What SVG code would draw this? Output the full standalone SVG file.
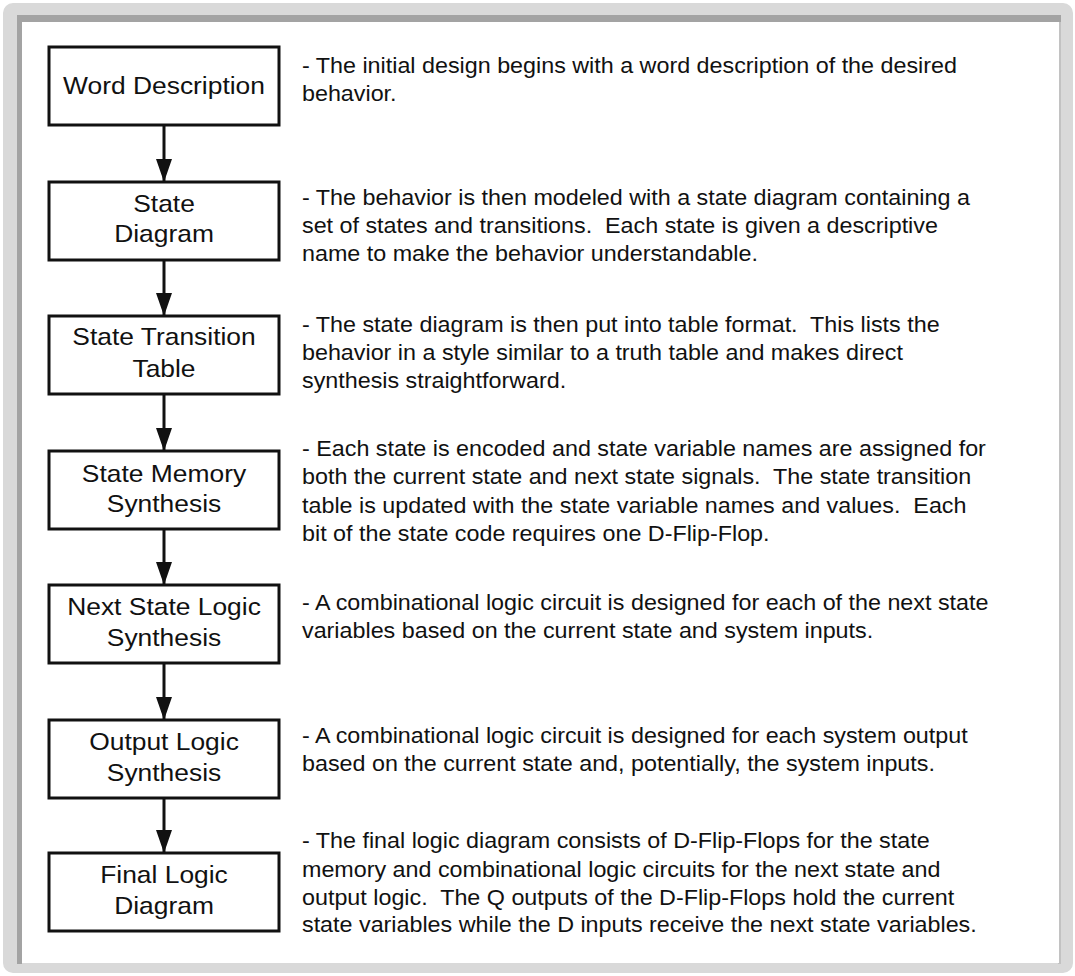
<svg xmlns="http://www.w3.org/2000/svg" width="1075" height="976" viewBox="0 0 1075 976">
<style>
.box{fill:#fff;stroke:#111;stroke-width:3}
.bt{font-family:"Liberation Sans",Arial,sans-serif;font-size:24px;fill:#111;text-anchor:middle}
.dt{font-family:"Liberation Sans",Arial,sans-serif;font-size:21.2px;fill:#111;white-space:pre}
.conn{stroke:#111;stroke-width:3;fill:none}
</style>
<defs>
<marker id="ah" markerUnits="userSpaceOnUse" markerWidth="23" markerHeight="16" refX="23" refY="8" orient="auto" viewBox="0 0 23 16">
<path d="M0,0 L23,8 L0,16 Z" fill="#111"/>
</marker>
</defs>
<g id="frame">
<rect x="3" y="3" width="1070" height="970" rx="10" fill="#d9d9d9"/>
<polygon points="17,15 1061,15 1061,22 22,22 22,964 17,964" fill="#a3a3a3"/>
<rect x="1058" y="22" width="3" height="942" fill="#c2c2c2"/>
<rect x="22" y="22" width="1037" height="941" fill="#fff"/>
</g>
<g id="connectors">
<line class="conn" x1="164" y1="125" x2="164" y2="182" marker-end="url(#ah)"/>
<line class="conn" x1="164" y1="260" x2="164" y2="316" marker-end="url(#ah)"/>
<line class="conn" x1="164" y1="394" x2="164" y2="451" marker-end="url(#ah)"/>
<line class="conn" x1="164" y1="529" x2="164" y2="585" marker-end="url(#ah)"/>
<line class="conn" x1="164" y1="663" x2="164" y2="720" marker-end="url(#ah)"/>
<line class="conn" x1="164" y1="798" x2="164" y2="853" marker-end="url(#ah)"/>
</g>
<g id="node-word">
<rect class="box" x="49" y="47" width="230" height="78"/>
<text class="bt" transform="translate(164,94) scale(1.1,1)">Word Description</text>
<text class="dt" xml:space="preserve" transform="translate(302,0) scale(1.1,1)"><tspan x="0" y="73">- The initial design begins with a word description of the desired</tspan><tspan x="0" y="101">behavior.</tspan></text>
</g>
<g id="node-statediagram">
<rect class="box" x="49" y="182" width="230" height="78"/>
<text class="bt" transform="translate(164,0) scale(1.1,1)"><tspan x="0" y="212">State</tspan><tspan x="0" y="242">Diagram</tspan></text>
<text class="dt" xml:space="preserve" transform="translate(302,0) scale(1.1,1)"><tspan x="0" y="205">- The behavior is then modeled with a state diagram containing a</tspan><tspan x="0" y="233">set of states and transitions.  Each state is given a descriptive</tspan><tspan x="0" y="261">name to make the behavior understandable.</tspan></text>
</g>
<g id="node-transition">
<rect class="box" x="49" y="316" width="230" height="78"/>
<text class="bt" transform="translate(164,0) scale(1.1,1)"><tspan x="0" y="345">State Transition</tspan><tspan x="0" y="377">Table</tspan></text>
<text class="dt" xml:space="preserve" transform="translate(302,0) scale(1.1,1)"><tspan x="0" y="332">- The state diagram is then put into table format.  This lists the</tspan><tspan x="0" y="360">behavior in a style similar to a truth table and makes direct</tspan><tspan x="0" y="388">synthesis straightforward.</tspan></text>
</g>
<g id="node-memory">
<rect class="box" x="49" y="451" width="230" height="78"/>
<text class="bt" transform="translate(164,0) scale(1.1,1)"><tspan x="0" y="482">State Memory</tspan><tspan x="0" y="512">Synthesis</tspan></text>
<text class="dt" xml:space="preserve" transform="translate(302,0) scale(1.1,1)"><tspan x="0" y="456">- Each state is encoded and state variable names are assigned for</tspan><tspan x="0" y="484">both the current state and next state signals.  The state transition</tspan><tspan x="0" y="513">table is updated with the state variable names and values.  Each</tspan><tspan x="0" y="541">bit of the state code requires one D-Flip-Flop.</tspan></text>
</g>
<g id="node-nextstate">
<rect class="box" x="49" y="585" width="230" height="78"/>
<text class="bt" transform="translate(164,0) scale(1.1,1)"><tspan x="0" y="615">Next State Logic</tspan><tspan x="0" y="646">Synthesis</tspan></text>
<text class="dt" xml:space="preserve" transform="translate(302,0) scale(1.1,1)"><tspan x="0" y="610">- A combinational logic circuit is designed for each of the next state</tspan><tspan x="0" y="638">variables based on the current state and system inputs.</tspan></text>
</g>
<g id="node-output">
<rect class="box" x="49" y="720" width="230" height="78"/>
<text class="bt" transform="translate(164,0) scale(1.1,1)"><tspan x="0" y="750">Output Logic</tspan><tspan x="0" y="781">Synthesis</tspan></text>
<text class="dt" xml:space="preserve" transform="translate(302,0) scale(1.1,1)"><tspan x="0" y="743">- A combinational logic circuit is designed for each system output</tspan><tspan x="0" y="771">based on the current state and, potentially, the system inputs.</tspan></text>
</g>
<g id="node-final">
<rect class="box" x="49" y="853" width="230" height="78"/>
<text class="bt" transform="translate(164,0) scale(1.1,1)"><tspan x="0" y="883">Final Logic</tspan><tspan x="0" y="914">Diagram</tspan></text>
<text class="dt" xml:space="preserve" transform="translate(302,0) scale(1.1,1)"><tspan x="0" y="848">- The final logic diagram consists of D-Flip-Flops for the state</tspan><tspan x="0" y="877">memory and combinational logic circuits for the next state and</tspan><tspan x="0" y="905">output logic.  The Q outputs of the D-Flip-Flops hold the current</tspan><tspan x="0" y="932">state variables while the D inputs receive the next state variables.</tspan></text>
</g>
</svg>
